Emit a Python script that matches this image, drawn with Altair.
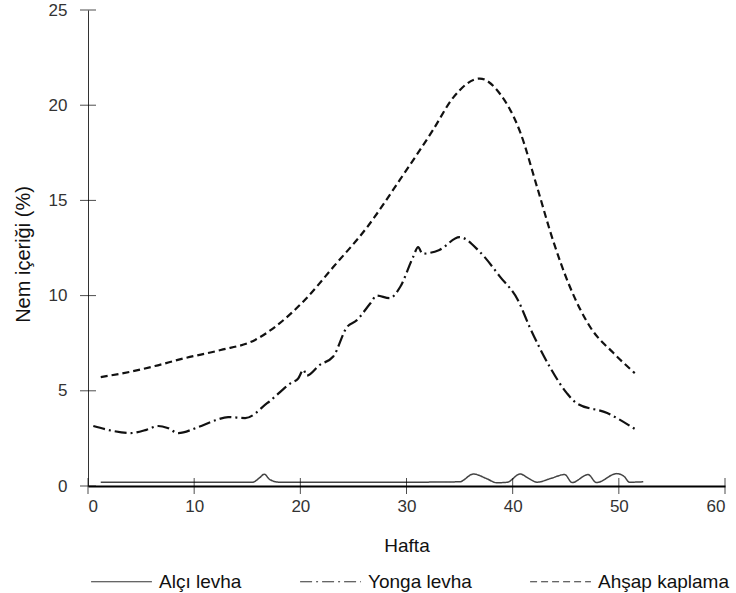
import altair as alt
import pandas as pd

series_names = ["Alçı levha", "Yonga levha", "Ahşap kaplama"]

alci_week = [1.2, 10, 15.5, 16.2, 16.6, 17.1, 18, 25, 30, 35, 36.3, 37.5, 38.5, 39.5, 40.7,
             41.5, 42.3, 43.6, 44.9, 45.6, 47.1, 47.9, 49.8, 50.5, 51.0, 52.3]
alci_moist = [0.2, 0.2, 0.2, 0.45, 0.62, 0.35, 0.2, 0.2, 0.2, 0.22, 0.63, 0.4, 0.17, 0.2, 0.63,
              0.4, 0.2, 0.4, 0.6, 0.18, 0.6, 0.18, 0.65, 0.5, 0.2, 0.22]

yonga_week = [0.5, 2.3, 4.0, 5.5, 6.6, 7.5, 8.5, 10.4, 12.0, 13.2, 14.8, 16.9, 19.1, 19.8, 20.3,
              20.6, 21.8, 23.1, 24.4, 25.3, 26.6, 27.2, 28.4, 29.4, 30.6, 31.1, 31.5, 33.1, 35.0,
              36.9, 38.8, 40.5, 41.6, 43.5, 45.1, 46.0, 48.9, 51.5]
yonga_moist = [3.15, 2.9, 2.78, 2.95, 3.15, 3.05, 2.78, 3.1, 3.45, 3.62, 3.57, 4.36, 5.4, 5.65, 6.1,
               5.8, 6.35, 6.8, 8.35, 8.7, 9.6, 10.0, 9.87, 10.45, 12.0, 12.55, 12.2, 12.4, 13.07,
               12.3, 11.0, 9.76, 8.35, 6.25, 4.88, 4.36, 3.83, 3.0]

ahsap_week = [1.2, 4.0, 6.3, 9.0, 12.5, 15.7, 17.6, 20.4, 23.1, 26.3, 29.4, 32.5, 34.4, 36.9,
              38.8, 40.7, 42.3, 43.8, 45.4, 47.3, 49.5, 51.5]
ahsap_moist = [5.72, 6.0, 6.3, 6.7, 7.14, 7.66, 8.35, 9.76, 11.5, 13.6, 16.1, 18.7, 20.4, 21.4,
               20.6, 18.6, 15.7, 12.9, 10.45, 8.35, 6.98, 5.93]

x_ticks = [0, 10, 20, 30, 40, 50, 60]
y_ticks = [0, 5, 10, 15, 20, 25]

rows = []
for name, xs, ys in zip(series_names, [alci_week, yonga_week, ahsap_week],
                        [alci_moist, yonga_moist, ahsap_moist]):
    for xv, yv in zip(xs, ys):
        rows.append({"Seri": name, "Hafta": xv, "Nem": yv})
df = pd.DataFrame(rows)

W, H = 637, 476
FONT = "Liberation Sans"

x_scale = alt.Scale(domain=[0, 60], nice=False, zero=False)
y_scale = alt.Scale(domain=[0, 25], nice=False)

x_enc = alt.X("Hafta:Q", scale=x_scale,
              axis=alt.Axis(values=x_ticks, title="Hafta", ticks=False, grid=False,
                            domainWidth=2, domainColor="#000",
                            labelPadding=12, labelFontSize=17, labelColor="#333", labelFont=FONT,
                            titleFontSize=19, titleFontWeight="normal", titleFont=FONT,
                            titleColor="#111", titleY=59, titleBaseline="middle"))
y_enc = alt.Y("Nem:Q", scale=y_scale,
              axis=alt.Axis(values=y_ticks, title="Nem içeriği (%)", ticks=False, grid=False,
                            domainWidth=1, domainColor="#333",
                            labelPadding=21, labelFontSize=17, labelColor="#333", labelFont=FONT,
                            titleFontSize=20, titleFontWeight="normal", titleFont=FONT,
                            titleColor="#111", titleX=-65, titleY=244,
                            titleBaseline="middle", titleAngle=270))
dash_enc = alt.StrokeDash(
    "Seri:N",
    scale=alt.Scale(domain=series_names, range=[[1, 0], [12, 4, 2, 4], [7, 4]]),
    legend=alt.Legend(title=None, orient="none", legendX=2, legendY=540,
                      direction="horizontal", symbolType="stroke", symbolSize=3700,
                      symbolStrokeWidth=1.2, symbolStrokeColor="#333",
                      labelFontSize=19, labelFont=FONT, labelColor="#111",
                      labelOffset=6, columnPadding=55))

base = alt.Chart(df).encode(x=x_enc, y=y_enc, strokeDash=dash_enc)

solid = base.transform_filter(alt.datum.Seri == series_names[0]).mark_line(
    interpolate="monotone", color="#444", strokeWidth=1.5)
dashed = base.transform_filter(alt.datum.Seri != series_names[0]).mark_line(
    interpolate="monotone", color="#111", strokeWidth=2.2)

xt = alt.Chart(pd.DataFrame({"Hafta": x_ticks})).mark_tick(
    color="#000", size=16, thickness=1).encode(
    x=alt.X("Hafta:Q", scale=x_scale), y=alt.value(H))

yt = alt.Chart(pd.DataFrame({"Nem": y_ticks})).mark_tick(
    color="#000", size=16, thickness=1).encode(
    y=alt.Y("Nem:Q", scale=y_scale), x=alt.value(0))

chart = alt.layer(solid, dashed, xt, yt).properties(
    width=W, height=H,
    padding={"left": 88, "top": 10, "right": 11, "bottom": 107},
    autosize=alt.AutoSizeParams(type="none"),
).configure(font=FONT).configure_view(stroke=None)

chart.save("out.html", embed_options={"renderer": "svg", "actions": False})
